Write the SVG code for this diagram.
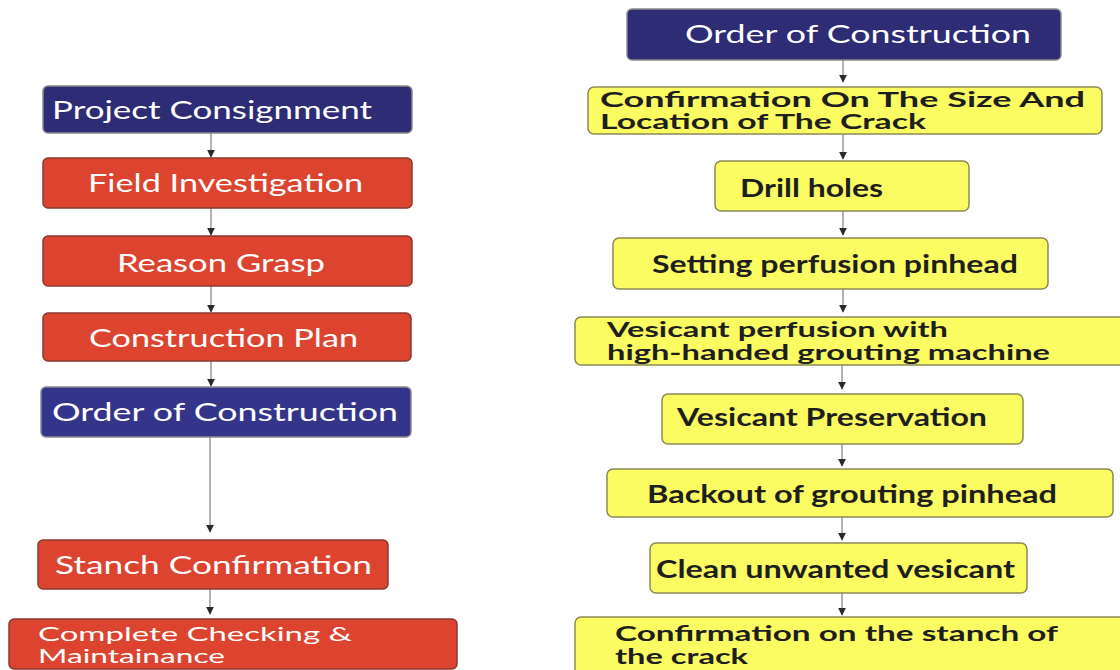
<svg xmlns="http://www.w3.org/2000/svg" width="1120" height="670" viewBox="0 0 1120 670">
  <style>
    .navy { fill: #2d2c74; stroke: #8a8a8a; stroke-width: 1.5; }
    .red { fill: #dc4430; stroke: #8b3a2f; stroke-width: 1.5; }
    .yel { fill: #fbfb62; stroke: #8c8a55; stroke-width: 1.5; }
    .lt { font-family: Lato, "Open Sans", "Liberation Sans", sans-serif; font-size: 25px; fill: #ffffff; }
    .dt { font-family: Lato, "Open Sans", "Liberation Sans", sans-serif; font-size: 25px; fill: #1e1e1e; font-weight: bold; }
    .two { font-size: 20px; }
    .edge { stroke: #a0a0a0; stroke-width: 1.6; fill: none; }
  </style>
  <defs>
    <marker id="arr" viewBox="0 0 10 10" refX="9" refY="5" markerWidth="5" markerHeight="5" orient="auto" markerUnits="strokeWidth">
      <path d="M0,0 L10,5 L0,10 z" fill="#2a2a2a"/>
    </marker>
  </defs>
  <rect width="1120" height="670" fill="#ffffff"/>

  <g id="connectors">
    <line class="edge" x1="211" y1="133" x2="211" y2="157" marker-end="url(#arr)"/>
    <line class="edge" x1="211" y1="208" x2="211" y2="235" marker-end="url(#arr)"/>
    <line class="edge" x1="211" y1="286" x2="211" y2="312" marker-end="url(#arr)"/>
    <line class="edge" x1="211" y1="361" x2="211" y2="386" marker-end="url(#arr)"/>
    <line class="edge" x1="210" y1="437" x2="210" y2="532" marker-end="url(#arr)"/>
    <line class="edge" x1="210" y1="589" x2="210" y2="614" marker-end="url(#arr)"/>

    <line class="edge" x1="843" y1="60" x2="843" y2="82" marker-end="url(#arr)"/>
    <line class="edge" x1="843" y1="134" x2="843" y2="159" marker-end="url(#arr)"/>
    <line class="edge" x1="843" y1="211" x2="843" y2="235" marker-end="url(#arr)"/>
    <line class="edge" x1="843" y1="289" x2="843" y2="312" marker-end="url(#arr)"/>
    <line class="edge" x1="842" y1="365" x2="842" y2="389" marker-end="url(#arr)"/>
    <line class="edge" x1="842" y1="444" x2="842" y2="466" marker-end="url(#arr)"/>
    <line class="edge" x1="842" y1="517" x2="842" y2="540" marker-end="url(#arr)"/>
    <line class="edge" x1="842" y1="593" x2="842" y2="615" marker-end="url(#arr)"/>
  </g>

  <!-- left column -->
  <g id="project-consignment">
    <rect class="navy" x="43" y="86" width="369" height="47" rx="5"/>
    <text class="lt" x="52" y="119" textLength="320" lengthAdjust="spacingAndGlyphs">Project Consignment</text>
  </g>
  <g id="field-investigation">
    <rect class="red" x="43" y="158" width="369" height="50" rx="5"/>
    <text class="lt" x="88" y="192" textLength="275" lengthAdjust="spacingAndGlyphs">Field Investigation</text>
  </g>
  <g id="reason-grasp">
    <rect class="red" x="43" y="236" width="369" height="50" rx="5"/>
    <text class="lt" x="117" y="272" textLength="208" lengthAdjust="spacingAndGlyphs">Reason Grasp</text>
  </g>
  <g id="construction-plan">
    <rect class="red" x="43" y="313" width="368" height="48" rx="5"/>
    <text class="lt" x="89" y="347" textLength="269" lengthAdjust="spacingAndGlyphs">Construction Plan</text>
  </g>
  <g id="order-left">
    <rect class="navy" x="41" y="387" width="370" height="50" rx="5" style="fill:#34358a"/>
    <text class="lt" x="52" y="421" textLength="346" lengthAdjust="spacingAndGlyphs">Order of Construction</text>
  </g>
  <g id="stanch-confirmation">
    <rect class="red" x="38" y="540" width="350" height="49" rx="5"/>
    <text class="lt" x="55" y="574" textLength="317" lengthAdjust="spacingAndGlyphs">Stanch Confirmation</text>
  </g>
  <g id="complete-checking">
    <rect class="red" x="9" y="619" width="448" height="50" rx="5"/>
    <text class="lt two" x="38" y="641" textLength="314" lengthAdjust="spacingAndGlyphs">Complete Checking &amp;</text>
    <text class="lt two" x="38" y="663" textLength="187" lengthAdjust="spacingAndGlyphs">Maintainance</text>
  </g>

  <!-- right column -->
  <g id="order-right">
    <rect class="navy" x="627" y="9" width="434" height="51" rx="5"/>
    <text class="lt" x="685" y="43" textLength="346" lengthAdjust="spacingAndGlyphs">Order of Construction</text>
  </g>
  <g id="confirm-size">
    <rect class="yel" x="588" y="87" width="514" height="47" rx="6"/>
    <text class="dt two" x="600" y="107" textLength="485" lengthAdjust="spacingAndGlyphs">Confirmation On The Size And</text>
    <text class="dt two" x="600" y="129" textLength="326" lengthAdjust="spacingAndGlyphs">Location of The Crack</text>
  </g>
  <g id="drill-holes">
    <rect class="yel" x="715" y="161" width="254" height="50" rx="6"/>
    <text class="dt" x="740" y="197" textLength="143" lengthAdjust="spacingAndGlyphs">Drill holes</text>
  </g>
  <g id="setting-pinhead">
    <rect class="yel" x="613" y="238" width="435" height="51" rx="6"/>
    <text class="dt" x="652" y="273" textLength="366" lengthAdjust="spacingAndGlyphs">Setting perfusion pinhead</text>
  </g>
  <g id="vesicant-perfusion">
    <rect class="yel" x="575" y="317" width="560" height="48" rx="6"/>
    <text class="dt two" x="607" y="337" textLength="341" lengthAdjust="spacingAndGlyphs">Vesicant perfusion with</text>
    <text class="dt two" x="607" y="360" textLength="443" lengthAdjust="spacingAndGlyphs">high-handed grouting machine</text>
  </g>
  <g id="vesicant-preservation">
    <rect class="yel" x="662" y="394" width="361" height="50" rx="6"/>
    <text class="dt" x="677" y="426" textLength="310" lengthAdjust="spacingAndGlyphs">Vesicant Preservation</text>
  </g>
  <g id="backout-pinhead">
    <rect class="yel" x="607" y="469" width="506" height="48" rx="6"/>
    <text class="dt" x="647" y="503" textLength="410" lengthAdjust="spacingAndGlyphs">Backout of grouting pinhead</text>
  </g>
  <g id="clean-vesicant">
    <rect class="yel" x="650" y="543" width="377" height="50" rx="6"/>
    <text class="dt" x="656" y="578" textLength="359" lengthAdjust="spacingAndGlyphs">Clean unwanted vesicant</text>
  </g>
  <g id="confirm-stanch">
    <rect class="yel" x="575" y="617" width="560" height="60" rx="6"/>
    <text class="dt two" x="615" y="641" textLength="443" lengthAdjust="spacingAndGlyphs">Confirmation on the stanch of</text>
    <text class="dt two" x="615" y="664" textLength="133" lengthAdjust="spacingAndGlyphs">the crack</text>
  </g>
</svg>
